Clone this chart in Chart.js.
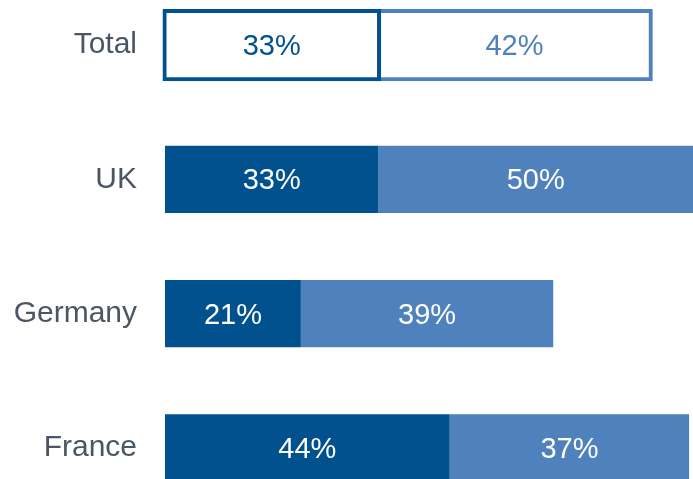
<!DOCTYPE html>
<html>
<head>
<meta charset="utf-8">
<script src="https://cdn.jsdelivr.net/npm/chart.js@4"></script>
<style>
html,body{margin:0;padding:0;background:#fff;overflow:hidden;width:693px;height:479px;}
#c{position:absolute;left:0;top:-22px;}
</style>
</head>
<body>
<canvas id="c" width="693" height="537" style="width:693px;height:537px;"></canvas>
<script>
const categories = ["Total", "UK", "Germany", "France"];
const series1 = [33, 33, 21, 44];
const series2 = [42, 50, 39, 37];
const labels1 = ["33%", "33%", "21%", "44%"];
const labels2 = ["42%", "50%", "39%", "37%"];

const DARK = "#00518E";
const LIGHT = "#4F81BD";

const labelPlugin = {
  id: "barLabels",
  afterDatasetsDraw(chart) {
    const ctx = chart.ctx;
    const area = chart.chartArea;
    ctx.save();
    ctx.font = "29px 'Liberation Sans', Arial, sans-serif";
    ctx.textAlign = "center";
    ctx.textBaseline = "middle";
    chart.data.datasets.forEach((ds, di) => {
      const meta = chart.getDatasetMeta(di);
      meta.data.forEach((el, i) => {
        const p = el.getProps(["x", "y", "base"], true);
        const l = Math.max(Math.min(p.x, p.base), area.left);
        const r = Math.min(Math.max(p.x, p.base), area.right);
        const cx = (l + r) / 2;
        ctx.fillStyle = i === 0 ? ds.borderColor : "#ffffff";
        ctx.fillText(ds.valueLabels[i], cx, p.y + 2);
      });
    });
    ctx.restore();
  }
};

new Chart(document.getElementById("c"), {
  type: "bar",
  data: {
    labels: categories,
    datasets: [
      {
        data: series1,
        valueLabels: labels1,
        backgroundColor: (c) => c.dataIndex === 0 ? "#ffffff" : DARK,
        borderColor: DARK,
        borderWidth: (c) => c.dataIndex === 0 ? 4 : 0,
        borderSkipped: false,
        inflateAmount: (c) => c.dataIndex === 0 ? 2.5 : 0,
        barPercentage: 0.5,
        categoryPercentage: 1.0,
        clip: false
      },
      {
        data: series2,
        valueLabels: labels2,
        backgroundColor: (c) => c.dataIndex === 0 ? "#ffffff" : LIGHT,
        borderColor: LIGHT,
        borderWidth: (c) => c.dataIndex === 0 ? 4 : 0,
        borderSkipped: false,
        inflateAmount: (c) => c.dataIndex === 0 ? 2.5 : 0,
        barPercentage: 0.5,
        categoryPercentage: 1.0,
        clip: false
      }
    ]
  },
  options: {
    indexAxis: "y",
    responsive: false,
    maintainAspectRatio: false,
    animation: false,
    layout: { padding: 0 },
    plugins: { legend: { display: false }, tooltip: { enabled: false } },
    scales: {
      x: {
        stacked: true,
        display: false,
        min: 0,
        max: 81.6
      },
      y: {
        stacked: true,
        grid: { display: false, drawTicks: false },
        border: { display: false },
        ticks: {
          color: "#4A5663",
          padding: 28,
          font: { family: "'Liberation Sans', Arial, sans-serif", size: 30 }
        },
        afterFit(scale) {
          scale.width = 165;
          scale.paddingTop = 0;
          scale.paddingBottom = 0;
        }
      }
    }
  },
  plugins: [labelPlugin]
});
</script>
</body>
</html>
